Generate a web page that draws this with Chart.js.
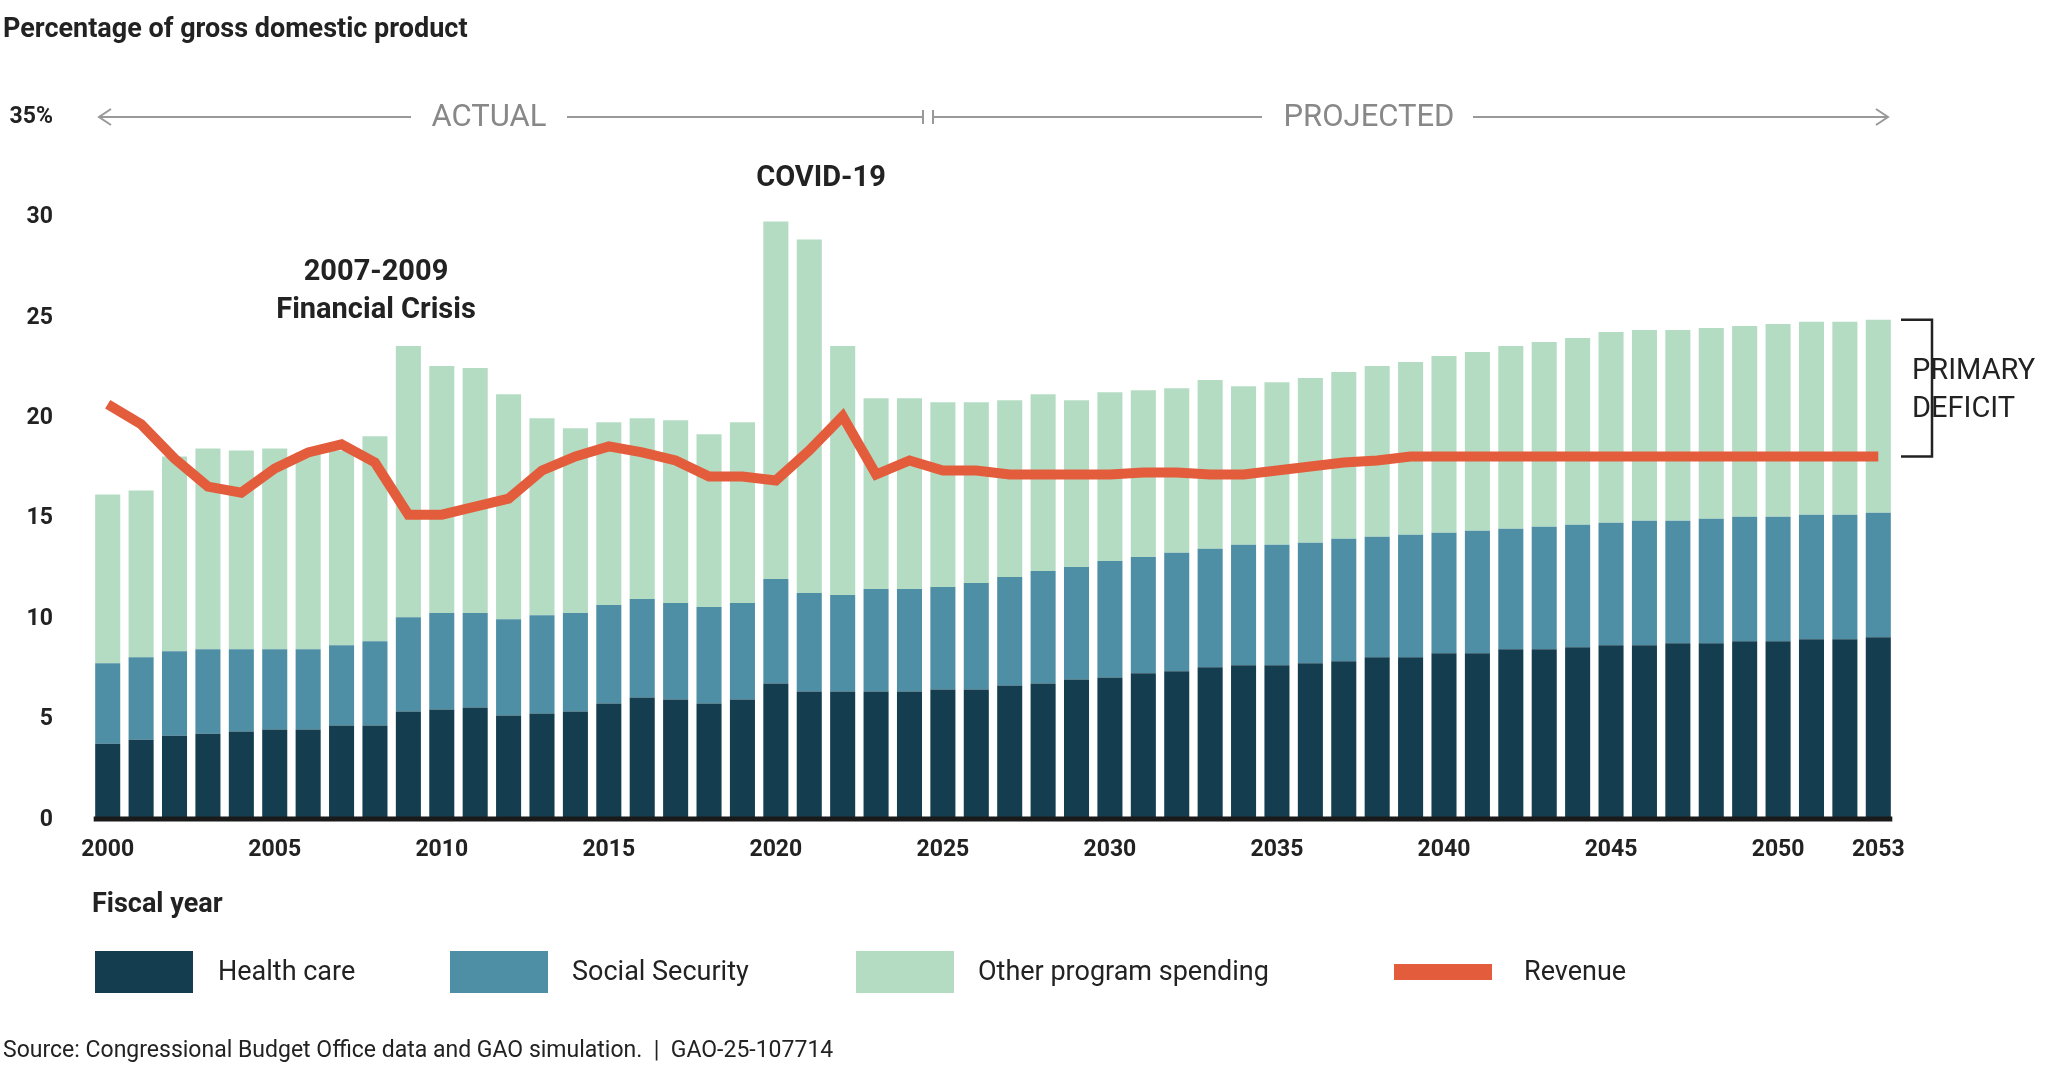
<!DOCTYPE html>
<html><head><meta charset="utf-8">
<script src="https://cdn.jsdelivr.net/npm/chart.js@4/dist/chart.umd.min.js"></script>
<style>html,body{margin:0;padding:0;background:#fff}#w{width:2057px;height:1069px}</style>
</head><body><div id="w"><canvas id="c"></canvas></div>
<script>
const years = [];
for (let y = 2000; y <= 2053; y++) years.push(String(y));
const xTickLabels = ['2000','2005','2010','2015','2020','2025','2030','2035','2040','2045','2050','2053'];
const healthCare = [3.8,4.0,4.2,4.3,4.4,4.5,4.5,4.7,4.7,5.4,5.5,5.6,5.2,5.3,5.4,5.8,6.1,6.0,5.8,6.0,6.8,6.4,6.4,6.4,6.4,6.5,6.5,6.7,6.8,7.0,7.1,7.3,7.4,7.6,7.7,7.7,7.8,7.9,8.1,8.1,8.3,8.3,8.5,8.5,8.6,8.7,8.7,8.8,8.8,8.9,8.9,9.0,9.0,9.1];
const ssTop = [7.8,8.1,8.4,8.5,8.5,8.5,8.5,8.7,8.9,10.1,10.3,10.3,10.0,10.2,10.3,10.7,11.0,10.8,10.6,10.8,12.0,11.3,11.2,11.5,11.5,11.6,11.8,12.1,12.4,12.6,12.9,13.1,13.3,13.5,13.7,13.7,13.8,14.0,14.1,14.2,14.3,14.4,14.5,14.6,14.7,14.8,14.9,14.9,15.0,15.1,15.1,15.2,15.2,15.3];
const totalTop = [16.2,16.4,18.1,18.5,18.4,18.5,18.3,18.4,19.1,23.6,22.6,22.5,21.2,20.0,19.5,19.8,20.0,19.9,19.2,19.8,29.8,28.9,23.6,21.0,21.0,20.8,20.8,20.9,21.2,20.9,21.3,21.4,21.5,21.9,21.6,21.8,22.0,22.3,22.6,22.8,23.1,23.3,23.6,23.8,24.0,24.3,24.4,24.4,24.5,24.6,24.7,24.8,24.8,24.9];
const revenue = [20.7,19.7,18.0,16.6,16.3,17.5,18.3,18.7,17.8,15.2,15.2,15.6,16.0,17.4,18.1,18.6,18.3,17.9,17.1,17.1,16.9,18.4,20.1,17.2,17.9,17.4,17.4,17.2,17.2,17.2,17.2,17.3,17.3,17.2,17.2,17.4,17.6,17.8,17.9,18.1,18.1,18.1,18.1,18.1,18.1,18.1,18.1,18.1,18.1,18.1,18.1,18.1,18.1,18.1];
const socialSecurity = ssTop.map((v,i)=>+(v-healthCare[i]).toFixed(2));
const otherSpending = totalTop.map((v,i)=>+(v-ssTop[i]).toFixed(2));

const C_H='#143d4f', C_S='#4f8fa6', C_O='#b3dcc3', C_R='#e35d3c';
const F='"Roboto", "Liberation Sans", sans-serif';

const deco = {
  id:'deco',
  afterDraw(ch){
    const c=ch.ctx, x=ch.scales.x, y=ch.scales.y, a=ch.chartArea;
    c.save();
    // zero line
    c.strokeStyle='#1a1a1a'; c.lineWidth=5;
    c.beginPath(); c.moveTo(x.getPixelForValue(0)-14,y.getPixelForValue(0)-1); c.lineTo(x.getPixelForValue(53)+14,y.getPixelForValue(0)-1); c.stroke();
    c.fillStyle='#222'; c.textBaseline='middle';
    c.font='bold 27px '+F; c.textAlign='left';
    c.fillText('Percentage of gross domestic product',3,30);
    // actual / projected
    const ly=y.getPixelForValue(35);
    c.strokeStyle='#999'; c.lineWidth=2; c.fillStyle='#888';
    c.font='31px '+F; c.textAlign='center';
    const seg=(x1,x2)=>{c.beginPath();c.moveTo(x1,ly);c.lineTo(x2,ly);c.stroke();};
    const arr=(px,dir)=>{c.beginPath();c.moveTo(px+dir*12,ly-8);c.lineTo(px,ly);c.lineTo(px+dir*12,ly+8);c.stroke();};
    seg(99,411); arr(99,1); seg(567,923); c.beginPath();c.moveTo(923,ly-7);c.lineTo(923,ly+7);c.moveTo(933,ly-7);c.lineTo(933,ly+7);c.stroke();
    seg(933,1262); seg(1473,1888); arr(1888,-1);
    c.fillText('ACTUAL',489,ly+1); c.fillText('PROJECTED',1369,ly+1);
    // annotations
    c.fillStyle='#222'; c.font='bold 29px '+F;
    c.fillText('COVID-19',821,179);
    c.fillText('2007-2009',376,273); c.fillText('Financial Crisis',376,311);
    // bracket
    const bt=y.getPixelForValue(24.9), bb=y.getPixelForValue(18.1), bx=1932, bx0=1901;
    c.strokeStyle='#222'; c.lineWidth=2.5;
    c.beginPath(); c.moveTo(bx0,bt); c.lineTo(bx,bt); c.lineTo(bx,bb); c.lineTo(bx0,bb); c.stroke();
    c.font='29px '+F; c.textAlign='left';
    c.fillText('PRIMARY',1912,372); c.fillText('DEFICIT',1912,410);
    // fiscal year
    c.font='bold 27px '+F; c.fillText('Fiscal year',92,905);
    // legend
    c.font='27px '+F;
    const lg=[[C_H,95,218,'Health care',42],[C_S,450,572,'Social Security',42],[C_O,856,978,'Other program spending',42],[C_R,1394,1524,'Revenue',16]];
    lg.forEach(([col,sx,tx,t,h])=>{c.fillStyle=col;c.fillRect(sx,972-h/2,98,h);c.fillStyle='#222';c.fillText(t,tx,973);});
    c.font='23px '+F; c.fillText('Source: Congressional Budget Office data and GAO simulation.  |  GAO-25-107714',3,1051);
    c.restore();
  }
};

new Chart(document.getElementById('c'),{
  data:{labels:years,datasets:[
    {type:'line',label:'Revenue',data:revenue,borderColor:C_R,borderWidth:10,pointRadius:0,tension:0,order:0},
    {type:'bar',label:'Health care',data:healthCare,backgroundColor:C_H,stack:'s',order:1,barPercentage:0.75,categoryPercentage:1},
    {type:'bar',label:'Social Security',data:socialSecurity,backgroundColor:C_S,stack:'s',order:1,barPercentage:0.75,categoryPercentage:1},
    {type:'bar',label:'Other program spending',data:otherSpending,backgroundColor:C_O,stack:'s',order:1,barPercentage:0.75,categoryPercentage:1}
  ]},
  options:{
    responsive:true,maintainAspectRatio:false,animation:false,
    layout:{padding:{left:0,right:162,top:117,bottom:209}},
    plugins:{legend:{display:false},tooltip:{enabled:false}},
    scales:{
      x:{stacked:true,grid:{display:false},border:{display:false},
        afterFit(s){s.height=40;},
        ticks:{autoSkip:false,maxRotation:0,padding:8,color:'#222',font:{family:F,size:23,weight:'bold'},
          callback(v){const l=this.getLabelForValue(v);return xTickLabels.includes(l)?l:'';}}},
      y:{stacked:true,min:0,max:35,grid:{display:false},border:{display:false},
        afterFit(s){s.width=91;},
        ticks:{stepSize:5,padding:30,color:'#222',font:{family:F,size:23,weight:'bold'},
          callback(v){return v===35?'35%':v;}}}
    }
  },
  plugins:[deco]
});
</script></body></html>
